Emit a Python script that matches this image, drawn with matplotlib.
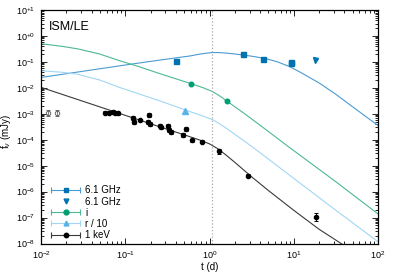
import numpy as np
import matplotlib
matplotlib.use('Agg')
import matplotlib.pyplot as plt
from matplotlib.lines import Line2D
from matplotlib.container import ErrorbarContainer
from matplotlib.legend_handler import HandlerErrorbar
from matplotlib.ticker import FixedLocator, NullFormatter, LogLocator

plt.rcParams['font.family'] = ['Liberation Sans', 'DejaVu Sans']
plt.rcParams['mathtext.fontset'] = 'custom'
plt.rcParams['mathtext.rm'] = 'Liberation Sans'
plt.rcParams['mathtext.it'] = 'Liberation Sans:italic'

# radio 6.1 GHz detections (days, mJy)
radio_t = [0.40, 2.5, 4.27, 9.2, 9.2]
radio_f = [0.111, 0.196, 0.133, 0.088, 0.098]
# radio upper limit
radio_ul_t = [18.0]
radio_ul_f = [0.118]
# optical
i_t = [0.598, 1.63]
i_f = [0.0144, 0.0031]
r_t = [0.517]
r_f = [0.00131]
# X-ray 1 keV
x_t = [0.058, 0.0637, 0.0716, 0.0763, 0.082, 0.1236, 0.127, 0.148, 0.191, 0.186,
       0.195, 0.256, 0.268, 0.322, 0.330, 0.346, 0.484, 0.521, 0.625, 0.815,
       1.29, 2.83, 18.2]
x_f = [1.10e-3, 1.10e-3, 1.20e-3, 1.10e-3, 1.04e-3, 6.7e-4, 4.9e-4, 5.75e-4, 8.95e-4, 4.9e-4,
       4.0e-4, 3.47e-4, 3.0e-4, 3.38e-4, 2.37e-4, 2.04e-4, 1.52e-4, 2.52e-4, 9.7e-5, 8.4e-5,
       3.6e-5, 4.1e-6, 1.05e-7]
x_err_dex = [0.05, 0.05, 0.05, 0.06, 0.05, 0.08, 0.07, 0.05, 0.09, 0.07,
             0.07, 0.06, 0.07, 0.06, 0.08, 0.07, 0.08, 0.08, 0.06, 0.05,
             0.09, 0.06, 0.16]
# early open points
early_t = [0.0120, 0.0156]
early_f = [1.1e-3, 1.1e-3]

# model curves (log10 t, log10 flux)
radio_mod_lt = [-2.0, -1.5, -1.0, -0.7, -0.5, -0.23, -0.1, 0.0, 0.04, 0.1, 0.2, 0.3, 0.4, 0.5,
                0.65, 0.8, 0.95, 1.05, 1.15, 1.31, 1.5, 1.67, 1.84, 2.0]
radio_mod_lf = [-1.60, -1.36, -1.12, -0.98, -0.89, -0.77, -0.69, -0.65, -0.638, -0.64, -0.66, -0.695,
                -0.735, -0.78, -0.86, -0.99, -1.18, -1.35, -1.53, -1.83, -2.25, -2.66, -3.07, -3.45]
i_mod_lt = [-2.0, -1.75, -1.56, -1.3, -1.09, -0.85, -0.62, -0.4, -0.22, -0.08, 0.04, 0.12,
            0.2, 0.3, 0.4, 0.48, 0.6, 0.95, 1.5, 2.0]
i_mod_lf = [-0.30, -0.40, -0.50, -0.70, -0.93, -1.17, -1.42, -1.65, -1.84, -1.99, -2.15, -2.31,
            -2.49, -2.73, -2.96, -3.15, -3.44, -4.30, -5.62, -6.86]
r_mod_lt = [-2.0, -1.75, -1.56, -1.3, -1.09, -0.85, -0.62, -0.4, -0.29, -0.12, 0.04, 0.12,
            0.22, 0.3, 0.4, 0.48, 0.6, 1.0, 1.5, 2.0]
r_mod_lf = [-1.34, -1.40, -1.48, -1.70, -1.96, -2.22, -2.47, -2.72, -2.85, -3.04, -3.23, -3.39,
            -3.60, -3.79, -4.02, -4.21, -4.50, -5.49, -6.72, -7.93]
x_mod_lt = [-2.0, -1.5, -1.0, -0.5, -0.3, -0.2, -0.1, 0.0, 0.1, 0.2, 0.3, 0.4, 0.5, 0.7, 1.0,
            1.3, 1.6]
x_mod_lf = [-1.98, -2.52, -3.06, -3.60, -3.81, -3.92, -4.03, -4.16, -4.35, -4.60, -4.87, -5.15,
            -5.43, -5.96, -6.72, -7.45, -8.08]

t_jet = 1.08

c_radio, c_radio_l = '#0072b2', '#4a9bd2'
c_i, c_i_l = '#009e73', '#4cb992'
c_r, c_r_l = '#56b4e9', '#a3d6f3'
c_x, c_x_l = 'black', '#3a3a3a'

fig = plt.figure(figsize=(3.95, 2.75), dpi=100)
ax = fig.add_axes([0.1038, 0.1145, 0.8532, 0.8491])

lw = 0.8
ax.plot(10**np.array(radio_mod_lt), 10**np.array(radio_mod_lf), color=c_radio_l, lw=lw)
ax.plot(10**np.array(i_mod_lt), 10**np.array(i_mod_lf), color=c_i_l, lw=lw)
ax.plot(10**np.array(r_mod_lt), 10**np.array(r_mod_lf), color=c_r_l, lw=lw)
ax.plot(10**np.array(x_mod_lt), 10**np.array(x_mod_lf), color=c_x_l, lw=lw)
ax.axvline(t_jet, color='#aaaaaa', ls=':', lw=0.9)

# data
ax.plot(radio_t, radio_f, 's', color=c_radio, ms=3.6)
ax.plot(radio_ul_t, radio_ul_f, 'v', color=c_radio, ms=3.6)
ax.plot(i_t, i_f, 'o', color=c_i, ms=3.3)
ax.plot(r_t, r_f, '^', color=c_r, ms=3.8)
xf = np.array(x_f)
xe = np.array(x_err_dex)
ax.errorbar(x_t, xf, yerr=[xf - xf / 10**xe, xf * 10**xe - xf], fmt='o', color=c_x,
            ms=3.0, elinewidth=0.7, capsize=1.5, capthick=0.7)
ef = np.array(early_f)
ax.errorbar(early_t, ef, yerr=[ef * 0.25, ef * 0.3], fmt='o', mfc='none', mec='#666666',
            ecolor='#666666', ms=3.2, mew=0.7, elinewidth=0.6, capsize=1.2, capthick=0.6)

ax.set_xscale('log')
ax.set_yscale('log')
ax.set_xlim(1e-2, 1e2)
ax.set_ylim(1e-8, 1e1)

xt = [1e-2, 1e-1, 1e0, 1e1, 1e2]
ax.xaxis.set_major_locator(FixedLocator(xt))
ax.set_xticklabels([r'$10^{-2}$', r'$10^{-1}$', r'$10^{0}$', r'$10^{1}$', r'$10^{2}$'])
yt = [10.0**k for k in range(-8, 2)]
ax.yaxis.set_major_locator(FixedLocator(yt))
ylab = []
for k in range(-8, 2):
    s = '+%d' % k if k >= 0 else '%d' % k
    ylab.append(r'$10^{%s}$' % s)
ax.set_yticklabels(ylab)
ax.xaxis.set_minor_locator(LogLocator(base=10, subs=np.arange(2, 10), numticks=20))
ax.yaxis.set_minor_locator(LogLocator(base=10, subs=np.arange(2, 10), numticks=20))
ax.xaxis.set_minor_formatter(NullFormatter())
ax.yaxis.set_minor_formatter(NullFormatter())
ax.tick_params(which='both', direction='in', top=True, right=True, labelsize=6.5, width=0.6)
ax.tick_params(which='major', length=4, pad=4)
ax.tick_params(which='minor', length=2)
for s in ax.spines.values():
    s.set_linewidth(0.9)

ax.set_xlabel('t (d)', fontsize=7, labelpad=1)
ax.set_ylabel(r'f$_\nu$ (mJy)', fontsize=7)
ax.yaxis.set_label_coords(-0.082, 0.48)
ax.text(0.022, 0.955, 'ISM/LE', transform=ax.transAxes, fontsize=9, va='top', ha='left')

# legend proxies
def proxy(marker, mc, lc, ms):
    return ax.errorbar([np.nan], [np.nan], xerr=[1.0], fmt=marker, color=mc, ecolor=lc,
                       ms=ms, elinewidth=0.8, capsize=2, capthick=0.8)

h1 = proxy('s', c_radio, c_radio_l, 3.5)
h2 = Line2D([], [], marker='v', color=c_radio, ls='none', ms=3.5)
h3 = proxy('o', c_i, c_i_l, 3.5)
h4 = proxy('^', c_r, c_r_l, 3.5)
h5 = proxy('o', c_x, c_x_l, 3.2)
leg = ax.legend([h1, h2, h3, h4, h5], ['6.1 GHz', '6.1 GHz', 'i', 'r / 10', '1 keV'],
                loc='lower left', bbox_to_anchor=(0.03, 0.015), frameon=False, fontsize=7,
                handlelength=3.0, handletextpad=0.5, labelspacing=0.12, borderpad=0,
                borderaxespad=0, numpoints=1,
                handler_map={ErrorbarContainer: HandlerErrorbar(xerr_size=1.5)})

fig.savefig('out.png', dpi=100)
